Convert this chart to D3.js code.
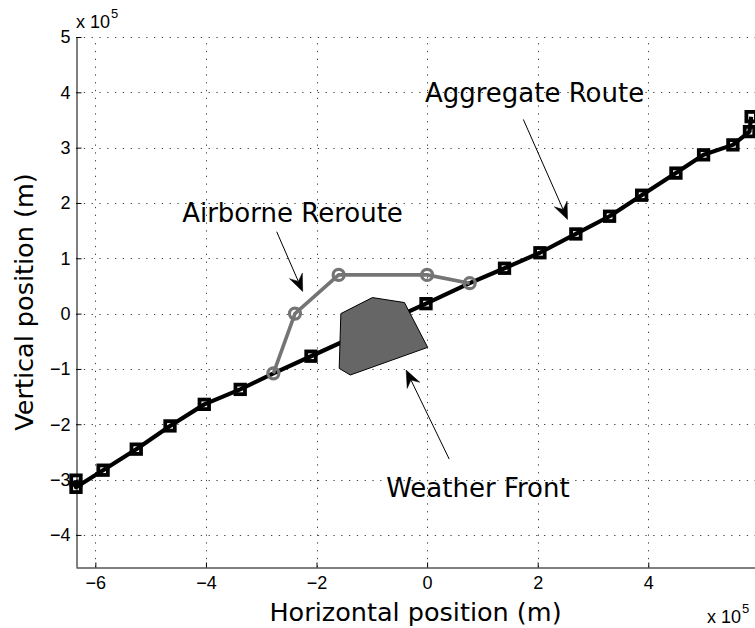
<!DOCTYPE html>
<html>
<head>
<meta charset="utf-8">
<script src="https://cdn.jsdelivr.net/npm/d3@7"></script>
<style>
  html, body { margin: 0; padding: 0; background: #fff; }
  svg { display: block; }
</style>
</head>
<body>
<svg id="chart" width="755" height="628"></svg>
<script>
// Axis ticks (units of 1e5 m)
const xTicks = [-6, -4, -2, 0, 2, 4];
const yTicks = [-4, -3, -2, -1, 0, 1, 2, 3, 4, 5];

// Aggregate route waypoints (x, y in 1e5 m)
const aggX = [-6.35, -6.35, -5.86, -5.26, -4.65, -4.03, -3.38, -2.78, -2.10, -0.02, 0.77, 1.40, 2.04, 2.69, 3.30, 3.88, 4.50, 5.00, 5.53, 5.83, 5.86];
const aggY = [-3.01, -3.14, -2.83, -2.45, -2.03, -1.64, -1.37, -1.08, -0.77, 0.18, 0.55, 0.82, 1.10, 1.44, 1.76, 2.14, 2.54, 2.87, 3.05, 3.29, 3.56];

// Airborne reroute waypoints
const rrX = [-2.78, -2.39, -1.60, 0.00, 0.77];
const rrY = [-1.08, 0.00, 0.70, 0.70, 0.55];

// Weather front polygon vertices
const wfX = [-1.56, -0.99, -0.41, 0.01, -1.39, -1.59];
const wfY = [0.00, 0.29, 0.20, -0.61, -1.11, -0.99];

// Annotations: label text, label anchor, arrow tail and arrow tip
const noteText = ["Aggregate Route", "Airborne Reroute", "Weather Front"];
const noteLabelX = [-0.04, -4.43, -0.74];
const noteLabelY = [3.82, 1.65, -3.32];
const noteFromX = [1.74, -2.72, 0.40];
const noteFromY = [3.51, 1.48, -2.63];
const noteToX = [2.54, -2.25, -0.38];
const noteToY = [1.70, 0.40, -1.02];

const xDomain = [-6.35, 5.93];
const yDomain = [-4.58, 5.0];

const svg = d3.select("#chart");
const plotLeft = 76, plotRight = 755, plotTop = 37, plotBottom = 567;

const x = d3.scaleLinear().domain(xDomain).range([plotLeft, plotRight]);
const y = d3.scaleLinear().domain(yDomain).range([plotBottom, plotTop]);

const tickFont = "'Liberation Sans', Arial, Helvetica, sans-serif";
const labelFont = "'DejaVu Sans', sans-serif";
const fmt = d => (d < 0 ? "\u2212" + Math.abs(d) : String(d));

// Dotted grid
const grid = svg.append("g").attr("stroke", "#444").attr("stroke-width", 1)
  .attr("stroke-dasharray", "1.3,6.5").attr("fill", "none");
grid.selectAll("line.v").data(xTicks).join("line").attr("class", "v")
  .attr("x1", d => Math.round(x(d)) + 0.5).attr("x2", d => Math.round(x(d)) + 0.5)
  .attr("y1", plotBottom).attr("y2", plotTop);
grid.selectAll("line.h").data(yTicks).join("line").attr("class", "h")
  .attr("y1", d => Math.round(y(d)) + 0.5).attr("y2", d => Math.round(y(d)) + 0.5)
  .attr("x1", plotLeft).attr("x2", plotRight);

// Axes with inward ticks
const xAxis = d3.axisBottom(x).tickValues(xTicks).tickFormat(fmt)
  .tickSizeInner(-5).tickSizeOuter(0).tickPadding(9);
const yAxis = d3.axisLeft(y).tickValues(yTicks).tickFormat(fmt)
  .tickSizeInner(-5).tickSizeOuter(0).tickPadding(6);

const gx = svg.append("g").attr("transform", `translate(0,${plotBottom + 0.5})`).call(xAxis);
const gy = svg.append("g").attr("transform", `translate(${plotLeft + 0.5},0)`).call(yAxis);
[gx, gy].forEach(g => {
  g.attr("font-family", tickFont).attr("font-size", 18);
  g.selectAll("path.domain").attr("stroke", "#000").attr("stroke-width", 1);
  g.selectAll(".tick line").attr("stroke", "#000");
  g.selectAll(".tick text").attr("fill", "#000");
});

// Exponent markers
function expLabel(xp, yp) {
  const t = svg.append("text").attr("x", xp).attr("y", yp)
    .attr("font-family", tickFont).attr("font-size", 18).attr("fill", "#000");
  t.append("tspan").text("x 10");
  t.append("tspan").attr("dx", 1).attr("dy", -10).attr("font-size", 13).text("5");
}
expLabel(76, 28);
expLabel(707, 623);

// Axis titles
svg.append("text").attr("x", (plotLeft + plotRight) / 2).attr("y", 621)
  .attr("text-anchor", "middle").attr("font-family", labelFont).attr("font-size", 25.5)
  .attr("fill", "#000").text("Horizontal position (m)");
svg.append("text").attr("transform", `translate(33,${(plotTop + plotBottom) / 2}) rotate(-90)`)
  .attr("text-anchor", "middle").attr("font-family", labelFont).attr("font-size", 25.5)
  .attr("fill", "#000").text("Vertical position (m)");

// Aggregate route
const agg = aggX.map((v, i) => [v, aggY[i]]);
const rr = rrX.map((v, i) => [v, rrY[i]]);
const wf = wfX.map((v, i) => [v, wfY[i]]);
const line = d3.line().x(d => x(d[0])).y(d => y(d[1]));

svg.append("path").datum(agg).attr("d", line)
  .attr("fill", "none").attr("stroke", "#000").attr("stroke-width", 4.2)
  .attr("stroke-linejoin", "round");

const shared = p => rr.some(q => Math.abs(q[0] - p[0]) < 0.05 && Math.abs(q[1] - p[1]) < 0.05);
const sq = 9.5;
svg.append("g").selectAll("rect").data(agg.filter(p => !shared(p))).join("rect")
  .attr("x", d => x(d[0]) - sq / 2).attr("y", d => y(d[1]) - sq / 2)
  .attr("width", sq).attr("height", sq)
  .attr("fill", "none").attr("stroke", "#000").attr("stroke-width", 3.8);

// Weather front
svg.append("polygon")
  .attr("points", wf.map(d => `${x(d[0])},${y(d[1])}`).join(" "))
  .attr("fill", "#666666").attr("stroke", "#000").attr("stroke-width", 1);

// Airborne reroute
const grey = "#747474";
svg.append("path").datum(rr).attr("d", line)
  .attr("fill", "none").attr("stroke", grey).attr("stroke-width", 3.6)
  .attr("stroke-linejoin", "round");
svg.append("g").selectAll("circle").data(rr).join("circle")
  .attr("cx", d => x(d[0])).attr("cy", d => y(d[1])).attr("r", 5.5)
  .attr("fill", "none").attr("stroke", grey).attr("stroke-width", 3.2);

// Annotations
const notes = svg.append("g");
noteText.forEach((txt, i) => {
  notes.append("text").attr("x", x(noteLabelX[i])).attr("y", y(noteLabelY[i]))
    .attr("font-family", labelFont).attr("font-size", 26).attr("fill", "#000").text(txt);
  const x0 = x(noteFromX[i]), y0 = y(noteFromY[i]);
  const x1 = x(noteToX[i]), y1 = y(noteToY[i]);
  const a = Math.atan2(y1 - y0, x1 - x0);
  const L = 17, W = 7, B = 11;
  const ux = Math.cos(a), uy = Math.sin(a), px = -uy, py = ux;
  notes.append("line").attr("x1", x0).attr("y1", y0)
    .attr("x2", x1 - ux * B).attr("y2", y1 - uy * B)
    .attr("stroke", "#000").attr("stroke-width", 1);
  const head = [
    [x1, y1],
    [x1 - ux * L + px * W, y1 - uy * L + py * W],
    [x1 - ux * B, y1 - uy * B],
    [x1 - ux * L - px * W, y1 - uy * L - py * W]
  ];
  notes.append("polygon").attr("points", head.map(p => p.join(",")).join(" "))
    .attr("fill", "#000").attr("stroke", "#000").attr("stroke-width", 0.5);
});
</script>
</body>
</html>
